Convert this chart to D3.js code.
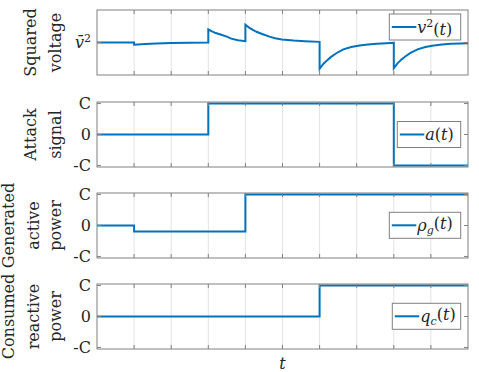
<!DOCTYPE html>
<html><head><meta charset="utf-8">
<script src="https://cdn.jsdelivr.net/npm/d3@7"></script>
<style>body{margin:0;background:#fff}svg{display:block}</style>
</head><body><div id="c"></div>
<script>
// ---- data ----
const xTicks = [0,1,2,3,4,5,6,7,8,9,10];
// squared voltage (deviation from nominal v̄²)
const vT = [0,1,1,1.3,1.6,2,2.5,3,3,3.1,3.2,3.35,3.5,3.62,3.8,4,4,4.1,4.2,4.3,4.45,4.65,4.8,4.98,5.3,5.6,6,6,6.1,6.2,6.3,6.45,6.64,6.85,7.08,7.3,7.54,7.8,8,8,8.1,8.2,8.3,8.45,8.64,8.85,9.08,9.3,9.54,9.8,10];
const vV = [0,0,-0.07,-0.045,-0.03,-0.015,-0.005,0,0.40,0.34,0.29,0.24,0.18,0.12,0.07,0.04,0.545,0.46,0.39,0.33,0.26,0.18,0.13,0.09,0.06,0.04,0.02,-0.81,-0.66,-0.55,-0.45,-0.33,-0.21,-0.14,-0.09,-0.06,-0.04,-0.02,-0.01,-0.79,-0.64,-0.53,-0.44,-0.32,-0.21,-0.14,-0.09,-0.06,-0.04,-0.03,-0.02];
// step signals (value holds from each t to the next)
const aT = [0,3,8,10];      const aV = [0,1,-1,-1];
const pT = [0,1,4,10];      const pV = [0,-0.19,1,1];
const qT = [0,6,10];        const qV = [0,1,1];
const stepTicks = [-1,0,1];
const stepTickLabels = ["-C","0","C"];
const ylabels = [["Squared","voltage"],["Attack","signal"],["Generated","active","power"],["Consumed","reactive","power"]];

// ---- layout ----
const W=479,H=372, L=97, R=468, PH=65;
const tops=[10,102,193,284];
const blue="#0072BD", axc="#808080", txt="#262626";
const FONT="'DejaVu Serif',serif";
const FS=16, FSS=11;
const svg=d3.select("#c").append("svg").attr("width",W).attr("height",H)
  .attr("font-family",FONT).attr("fill",txt);
const x=d3.scaleLinear().domain([0,10]).range([L,R]);

function panel(i, domain, ticks, tickLabelFn, path, legend){
  const top=tops[i], bot=top+PH;
  const y=d3.scaleLinear().domain(domain).range([bot,top]);
  const g=svg.append("g");
  g.selectAll(".gx").data(xTicks.slice(1,-1)).join("line")
    .attr("x1",d=>x(d)).attr("x2",d=>x(d)).attr("y1",top).attr("y2",bot)
    .attr("stroke","#e3e3e3").attr("stroke-width",1);
  g.append("path").attr("d",path(y)).attr("fill","none").attr("stroke",blue).attr("stroke-width",2);
  g.append("rect").attr("x",L).attr("y",top).attr("width",R-L).attr("height",PH)
    .attr("fill","none").attr("stroke",axc).attr("stroke-width",1);
  xTicks.slice(1,-1).forEach(d=>{
    g.append("line").attr("x1",x(d)).attr("x2",x(d)).attr("y1",bot).attr("y2",bot-4).attr("stroke",axc);
    g.append("line").attr("x1",x(d)).attr("x2",x(d)).attr("y1",top).attr("y2",top+4).attr("stroke",axc);
  });
  ticks.forEach((d,k)=>{
    g.append("line").attr("x1",L).attr("x2",L+4).attr("y1",y(d)).attr("y2",y(d)).attr("stroke",axc);
    g.append("line").attr("x1",R).attr("x2",R-4).attr("y1",y(d)).attr("y2",y(d)).attr("stroke",axc);
    tickLabelFn(g.append("text").attr("x",L-6).attr("y",y(d)).attr("dy","0.35em")
      .attr("text-anchor","end").attr("font-size",FS), d, k);
  });
  const lines=ylabels[i];
  const xs = lines.length===2 ? [36,61] : [14,39,61];
  lines.forEach((s,k)=>{
    svg.append("text").attr("transform",`translate(${xs[k]},${(top+bot)/2}) rotate(-90)`)
      .attr("text-anchor","middle").attr("font-size",FS).text(s);
  });
  const lg=svg.append("g");
  lg.append("rect").attr("x",legend.x0).attr("y",legend.y0).attr("width",460.7-legend.x0).attr("height",26)
    .attr("fill","#fff").attr("stroke",axc);
  const ly=legend.y0+13;
  lg.append("line").attr("x1",legend.x0+2.5).attr("x2",legend.x0+27).attr("y1",ly).attr("y2",ly)
    .attr("stroke",blue).attr("stroke-width",2);
  legend.text(lg.append("text").attr("x",legend.x0+28).attr("y",ly).attr("dy","0.35em").attr("font-size",FS));
  return y;
}

const lineV = y=>d3.line().x((d,k)=>x(vT[k])).y(d=>y(d))(vV);
const stepPath = (T,V)=> y=>d3.line().curve(d3.curveStepAfter).x((d,k)=>x(T[k])).y(d=>y(d))(V);

panel(0,[-1,1],[0],(t)=>{t.append("tspan").attr("font-style","italic").text("v\u0304");t.append("tspan").attr("font-size",FSS).attr("dy","-0.6em").text("2");},
  lineV,{x0:389.3,y0:14,text:t=>{t.append("tspan").attr("font-style","italic").text("v");t.append("tspan").attr("font-size",FSS).attr("dy","-0.5em").text("2");t.append("tspan").attr("dy","0.5em").text("(");t.append("tspan").attr("font-style","italic").text("t");t.append("tspan").text(")");}});

const stepLbl=(t,d,k)=>t.text(stepTickLabels[k]);
panel(1,[-1.05,1.05],stepTicks,stepLbl,stepPath(aT,aV),{x0:397.3,y0:121.5,text:t=>{t.append("tspan").attr("font-style","italic").text("a");t.append("tspan").text("(");t.append("tspan").attr("font-style","italic").text("t");t.append("tspan").text(")");}});
panel(2,[-1.05,1.05],stepTicks,stepLbl,stepPath(pT,pV),{x0:389.3,y0:212.3,text:t=>{t.append("tspan").attr("font-style","italic").text("ρ");t.append("tspan").attr("font-style","italic").attr("font-size",FSS).attr("dy","0.3em").text("g");t.append("tspan").attr("dy","-0.3em").text("(");t.append("tspan").attr("font-style","italic").text("t");t.append("tspan").text(")");}});
panel(3,[-1.05,1.05],stepTicks,stepLbl,stepPath(qT,qV),{x0:392.3,y0:303.3,text:t=>{t.append("tspan").attr("font-style","italic").text("q");t.append("tspan").attr("font-style","italic").attr("font-size",FSS).attr("dy","0.3em").text("c");t.append("tspan").attr("dy","-0.3em").text("(");t.append("tspan").attr("font-style","italic").text("t");t.append("tspan").text(")");}});

svg.append("text").attr("x",x(5)).attr("y",369).attr("text-anchor","middle").attr("font-size",FS).attr("font-style","italic").text("t");
</script></body></html>
